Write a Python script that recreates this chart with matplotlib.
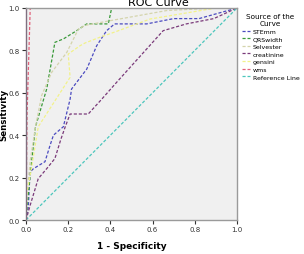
import matplotlib
matplotlib.use("Agg")
import matplotlib.pyplot as plt

series_names = ["STEmm", "QRSwidth", "Selvester", "creatinine", "gensini", "wms", "Reference Line"]
colors = ["#4b4bc0", "#3a9a3a", "#d4d4ac", "#7a3a7a", "#f2f28a", "#e0607a", "#4cc6bc"]

stemm_x = [0.0, 0.011, 0.019, 0.035, 0.09, 0.114, 0.13, 0.177, 0.209, 0.216, 0.288, 0.335, 0.382, 0.42, 0.572, 0.70, 0.82, 1.0]
stemm_y = [0.0, 0.06, 0.226, 0.242, 0.275, 0.352, 0.40, 0.44, 0.57, 0.618, 0.712, 0.822, 0.893, 0.925, 0.925, 0.95, 0.95, 1.0]

qrs_x = [0.0, 0.011, 0.027, 0.045, 0.098, 0.137, 0.177, 0.24, 0.288, 0.39, 0.406, 1.0]
qrs_y = [0.0, 0.124, 0.28, 0.44, 0.618, 0.838, 0.854, 0.893, 0.925, 0.925, 1.0, 1.0]

selv_x = [0.0, 0.005, 0.02, 0.045, 0.074, 0.122, 0.193, 0.248, 0.28, 0.398, 0.667, 0.9, 1.0]
selv_y = [0.0, 0.12, 0.28, 0.44, 0.587, 0.697, 0.79, 0.9, 0.918, 0.94, 0.988, 1.0, 1.0]

creat_x = [0.0, 0.019, 0.058, 0.098, 0.137, 0.165, 0.185, 0.209, 0.295, 0.359, 0.43, 0.65, 0.76, 0.89, 1.0]
creat_y = [0.0, 0.067, 0.195, 0.242, 0.29, 0.38, 0.437, 0.5, 0.5, 0.57, 0.65, 0.893, 0.925, 0.95, 1.0]

gens_x = [0.0, 0.003, 0.027, 0.058, 0.209, 0.2, 0.256, 0.28, 0.35, 0.43, 0.588, 0.9, 1.0]
gens_y = [0.0, 0.124, 0.25, 0.44, 0.673, 0.783, 0.822, 0.835, 0.862, 0.89, 0.948, 1.0, 1.0]

wms_x = [0.0, 0.005, 0.02, 1.0]
wms_y = [0.0, 0.5, 1.0, 1.0]

ref_x = [0.0, 1.0]
ref_y = [0.0, 1.0]

xs = [stemm_x, qrs_x, selv_x, creat_x, gens_x, wms_x, ref_x]
ys = [stemm_y, qrs_y, selv_y, creat_y, gens_y, wms_y, ref_y]

ticks = [0.0, 0.2, 0.4, 0.6, 0.8, 1.0]
tick_labels = ["0.0", "0.2", "0.4", "0.6", "0.8", "1.0"]

W, H = 304, 255
fig = plt.figure(figsize=(W / 100, H / 100), dpi=100)
fig.patch.set_facecolor("white")
ax = fig.add_axes([26 / W, 1 - 221 / H, (237 - 26) / W, (221 - 9) / H])
ax.set_facecolor("#f0f0f0")

lines = []
for x, y, c, n in zip(xs, ys, colors, series_names):
    ln, = ax.plot(x, y, color=c, lw=0.9, ls=(0, (2.5, 1.5)), label=n)
    lines.append(ln)

ax.set_xlim(0, 1)
ax.set_ylim(0, 1)
ax.set_xticks(ticks)
ax.set_xticklabels(tick_labels)
ax.set_yticks(ticks)
ax.set_yticklabels(tick_labels)
ax.tick_params(labelsize=5, colors="#333333", length=3, width=0.8, pad=1.5)
for s in ax.spines.values():
    s.set_color("#9a9a9a")
    s.set_linewidth(1.0)
ax.spines["left"].set_color("#807080")

ax.set_xlabel("1 - Specificity", fontsize=6.5, fontweight="bold", labelpad=6)
ax.set_ylabel("Sensitivity", fontsize=6.2, fontweight="bold")
ax.yaxis.set_label_coords((8.5 - 26) / 211, 0.5)

fig.text(158 / W, 1 - 6.5 / H, "ROC Curve", fontsize=8, ha="center", va="baseline")

leg = fig.legend(handles=lines, labels=series_names, loc="upper left",
                 bbox_to_anchor=(241 / W, 1 - 13 / H), frameon=False,
                 fontsize=4.5, title="Source of the\nCurve", title_fontsize=5.2,
                 handlelength=1.4, handletextpad=0.4, labelspacing=0.36,
                 borderpad=0.1, borderaxespad=0.0)
leg.get_title().set_linespacing(1.3)
leg.get_title().set_multialignment("center")

fig.savefig("out.png", dpi=100)
